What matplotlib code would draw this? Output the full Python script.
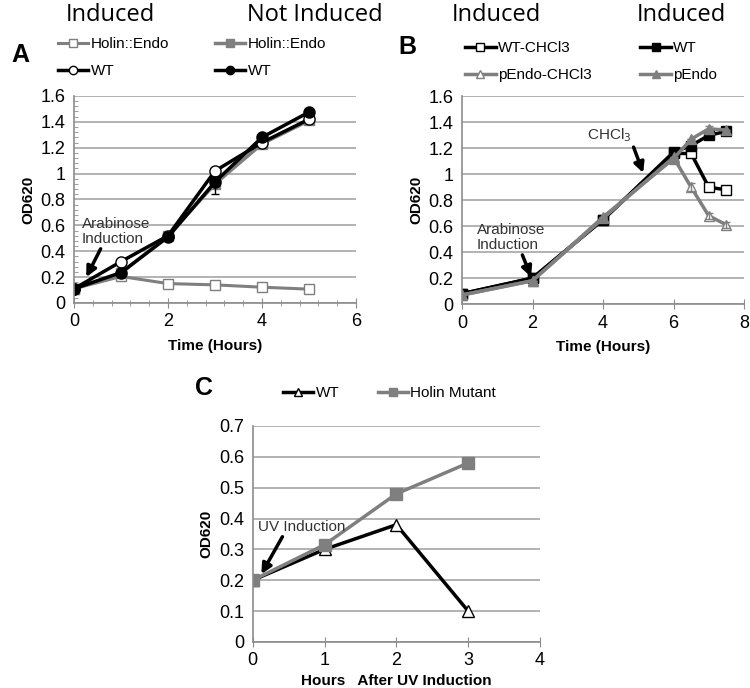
import numpy as np
import matplotlib
matplotlib.use('Agg')
import matplotlib.pyplot as plt
from matplotlib.ticker import MultipleLocator, FuncFormatter

plt.rcParams['font.family'] = ['Liberation Sans', 'DejaVu Sans']

# ---- panel A ----
a_time = [0, 1, 2, 3, 4, 5]
a_holin_ind = [0.11, 0.205, 0.15, 0.14, 0.122, 0.107]
a_holin_not = [0.11, 0.23, 0.52, 0.92, 1.23, 1.41]
a_wt_ind = [0.11, 0.32, 0.52, 1.02, 1.24, 1.42]
a_wt_not = [0.11, 0.235, 0.51, 0.935, 1.28, 1.475]
a_err_x = [3]
a_err_y = [0.92]
a_err = [0.08]

# ---- panel B ----
b_time = [0, 2, 4, 6, 6.5, 7, 7.5]
b_wt_chcl3 = [0.08, 0.2, 0.65, 1.16, 1.16, 0.9, 0.88]
b_wt = [0.08, 0.2, 0.65, 1.17, 1.22, 1.3, 1.33]
b_pendo_chcl3 = [0.07, 0.18, 0.66, 1.13, 0.9, 0.68, 0.61]
b_pendo = [0.07, 0.18, 0.67, 1.12, 1.27, 1.35, 1.34]
b_pendo_chcl3_err = [0, 0, 0, 0, 0.03, 0.025, 0.025]
b_pendo_err = [0, 0, 0, 0, 0, 0.02, 0]

# ---- panel C ----
c_time = [0, 1, 2, 3]
c_wt = [0.2, 0.3, 0.38, 0.1]
c_holin = [0.2, 0.315, 0.48, 0.58]

GRAY = '#7f7f7f'
AXC = '#8c8c8c'
HEAD = ['Open Sans', 'DejaVu Sans']


def gfmt(v, pos):
    return '%g' % round(v, 2)


def style_axes(ax, ymax, ystep, xmax, xstep):
    ax.set_ylim(0, ymax)
    ax.set_xlim(0, xmax)
    ax.yaxis.set_major_locator(MultipleLocator(ystep))
    ax.xaxis.set_major_locator(MultipleLocator(xstep))
    ax.yaxis.set_major_formatter(FuncFormatter(gfmt))
    ax.xaxis.set_major_formatter(FuncFormatter(gfmt))
    ax.grid(axis='y', color='#a6a6a6', linewidth=1.2)
    ax.set_axisbelow(True)
    for s in ['top', 'right']:
        ax.spines[s].set_visible(False)
    for s in ['left', 'bottom']:
        ax.spines[s].set_color(AXC)
        ax.spines[s].set_linewidth(1.2)
    ax.tick_params(axis='x', direction='inout', length=7, color=AXC, labelsize=13, pad=4)
    ax.tick_params(axis='y', length=0, labelsize=13, pad=6)
    ax.set_ylabel('OD620', fontsize=11, fontweight='bold')


def arrow(ax, text, xy, xytext, relpos):
    ax.annotate(text, xy=xy, xytext=xytext, fontsize=11, color='#333333',
                ha='left', va='bottom', linespacing=1.1,
                arrowprops=dict(arrowstyle='-|>', color='black', lw=2.5, mutation_scale=15,
                                shrinkA=0, shrinkB=0, relpos=relpos))


def legend(ax, handles, x, y, spacing):
    ax.legend(handles=handles, ncol=2, loc='upper left', bbox_to_anchor=(x, y),
              bbox_transform=fig.transFigure, frameon=False, fontsize=11, handlelength=2.0,
              handletextpad=0.15, columnspacing=spacing, labelspacing=0.85,
              markerscale=0.75, borderpad=0, borderaxespad=0)


fig = plt.figure(figsize=(7.5, 6.88), dpi=100)

# panel A
axA = fig.add_axes([0.0987, 0.5596, 0.376, 0.301])
style_axes(axA, 1.6, 0.2, 6, 2)
axA.xaxis.set_minor_locator(MultipleLocator(0.4))
axA.yaxis.set_minor_locator(MultipleLocator(0.04))
axA.tick_params(axis='x', which='minor', direction='inout', length=4, color=AXC)
axA.tick_params(axis='y', which='minor', direction='in', length=3, color=AXC)
lA1, = axA.plot(a_time, a_holin_ind, color=GRAY, lw=2.2, marker='s', ms=7, mfc='white', mec=GRAY, label='Holin::Endo')
lA2, = axA.plot(a_time, a_holin_not, color=GRAY, lw=2.5, marker='s', ms=7, mfc=GRAY, mec=GRAY, label='Holin::Endo')
lA3, = axA.plot(a_time, a_wt_ind, color='black', lw=2.5, marker='o', ms=8, mfc='white', mec='black', label='WT')
lA4, = axA.plot(a_time, a_wt_not, color='black', lw=2.5, marker='o', ms=8, mfc='black', mec='black', label='WT')
axA.errorbar(a_err_x, a_err_y, yerr=[a_err, [0]], fmt='none', ecolor='black', elinewidth=1, capsize=3)
axA.set_xlabel('Time (Hours)', fontsize=11, fontweight='bold', labelpad=6)
arrow(axA, 'Arabinose\nInduction', (0.26, 0.2), (0.16, 0.44), (0.3, 0))
legend(axA, [lA1, lA3, lA2, lA4], 0.077, 0.946, 3.0)

# panel B
axB = fig.add_axes([0.616, 0.558, 0.376, 0.302])
style_axes(axB, 1.6, 0.2, 8, 2)
lB1, = axB.plot(b_time, b_wt_chcl3, color='black', lw=2.5, marker='s', ms=7, mfc='white', mec='black', label='WT-CHCl3')
lB2, = axB.plot(b_time, b_wt, color='black', lw=2.5, marker='s', ms=7, mfc='black', mec='black', label='WT')
lB3, = axB.plot(b_time, b_pendo_chcl3, color=GRAY, lw=2.5, marker='^', ms=7, mfc='white', mec=GRAY, label='pEndo-CHCl3')
lB4, = axB.plot(b_time, b_pendo, color=GRAY, lw=2.5, marker='^', ms=7, mfc=GRAY, mec=GRAY, label='pEndo')
axB.errorbar(b_time, b_pendo_chcl3, yerr=b_pendo_chcl3_err, fmt='none', ecolor=GRAY, elinewidth=1, capsize=3)
axB.errorbar(b_time, b_pendo, yerr=b_pendo_err, fmt='none', ecolor=GRAY, elinewidth=1, capsize=3)
axB.set_xlabel('Time (Hours)', fontsize=11, fontweight='bold', labelpad=6)
arrow(axB, 'Arabinose\nInduction', (1.96, 0.21), (0.42, 0.4), (0.65, 0))
arrow(axB, 'CHCl$_3$', (5.14, 1.01), (3.54, 1.23), (1.0, 0.2))
legend(axB, [lB1, lB3, lB2, lB4], 0.62, 0.940, 3.2)

# panel C
axC = fig.add_axes([0.337, 0.0669, 0.383, 0.314])
style_axes(axC, 0.7, 0.1, 4, 1)
lC1, = axC.plot(c_time, c_wt, color='black', lw=2.5, marker='^', ms=8, mfc='white', mec='black', label='WT')
lC2, = axC.plot(c_time, c_holin, color=GRAY, lw=2.5, marker='s', ms=8, mfc=GRAY, mec=GRAY, label='Holin Mutant')
axC.set_xlabel('Hours   After UV Induction', fontsize=11, fontweight='bold', labelpad=3)
arrow(axC, 'UV Induction', (0.12, 0.22), (0.07, 0.35), (0.3, 0))
legend(axC, [lC1, lC2], 0.377, 0.439, 2.5)

# headers and panel letters
fig.text(0.147, 0.978, 'Induced', fontsize=17, ha='center', va='center', family=HEAD)
fig.text(0.42, 0.978, 'Not Induced', fontsize=17, ha='center', va='center', family=HEAD)
fig.text(0.662, 0.978, 'Induced', fontsize=17, ha='center', va='center', family=HEAD)
fig.text(0.908, 0.978, 'Induced', fontsize=17, ha='center', va='center', family=HEAD)
fig.text(0.015, 0.92, 'A', fontsize=18, fontweight='bold', ha='left', va='center')
fig.text(0.531, 0.931, 'B', fontsize=18, fontweight='bold', ha='left', va='center')
fig.text(0.26, 0.436, 'C', fontsize=18, fontweight='bold', ha='left', va='center')

fig.savefig('out.png', dpi=100)
